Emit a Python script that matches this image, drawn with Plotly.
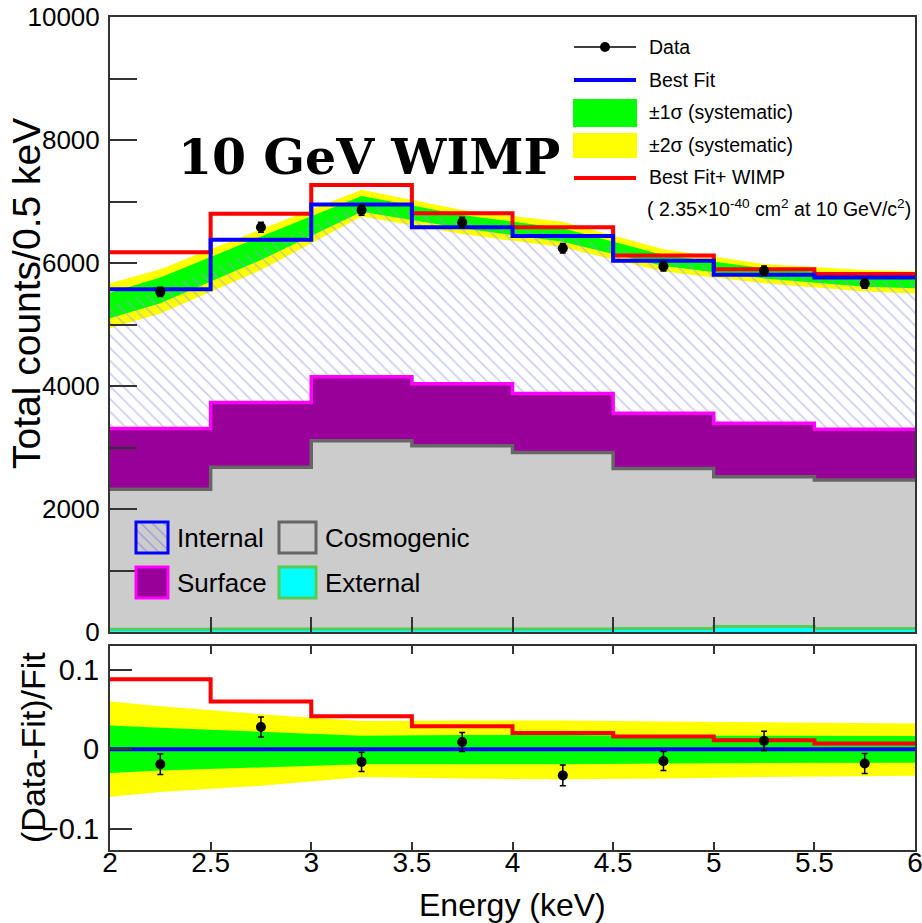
import plotly.graph_objects as go

# ---------------- binning ----------------
energy_edges = [2.0, 2.5, 3.0, 3.5, 4.0, 4.5, 5.0, 5.5, 6.0]
bin_centers = [2.25, 2.75, 3.25, 3.75, 4.25, 4.75, 5.25, 5.75]
energy_tick_labels = ["2", "2.5", "3", "3.5", "4", "4.5", "5", "5.5", "6"]

# ---------------- spectrum (counts / 0.5 keV) ----------------
data_counts = [5530, 6580, 6860, 6660, 6240, 5945, 5875, 5665]
data_errors = [74, 81, 83, 82, 79, 77, 77, 75]
best_fit = [5575, 6380, 6950, 6580, 6440, 6035, 5810, 5765]
best_fit_wimp = [6175, 6800, 7270, 6810, 6580, 6120, 5900, 5820]

# stacked background components (cumulative tops of each layer)
surface_top = [3310, 3730, 4150, 4035, 3880, 3555, 3395, 3295]
cosmogenic_top = [2320, 2680, 3110, 3030, 2920, 2660, 2525, 2470]
external_top = [45, 48, 50, 50, 50, 55, 90, 55]

# smooth fit envelope evaluated at the band nodes
band_nodes = [2.0, 2.25, 2.75, 3.25, 3.75, 4.25, 4.75, 5.25, 5.75, 6.0]
internal_top = [5310, 5555, 6240, 6960, 6670, 6455, 6040, 5830, 5710, 5680]
sys2_hi = [5670, 5900, 6550, 7190, 6860, 6670, 6225, 5985, 5885, 5860]
sys1_hi = [5515, 5765, 6430, 7090, 6780, 6565, 6130, 5915, 5805, 5775]
sys1_lo = [5100, 5345, 6050, 6835, 6565, 6345, 5950, 5750, 5615, 5590]
sys2_lo = [4940, 5180, 5885, 6755, 6470, 6255, 5860, 5670, 5535, 5505]

count_ticks = [0, 2000, 4000, 6000, 8000, 10000]
count_tick_labels = ["0", "2000", "4000", "6000", "8000", "10000"]

# ---------------- residual panel ----------------
resid_values = [-0.019, 0.028, -0.016, 0.009, -0.033, -0.015, 0.0105, -0.018]
resid_errors = [0.013, 0.0125, 0.012, 0.012, 0.013, 0.012, 0.012, 0.0125]
resid_wimp = [0.088, 0.060, 0.0415, 0.029, 0.0205, 0.0160, 0.0113, 0.0072]
resid_fit = [0.0, 0.0, 0.0, 0.0, 0.0, 0.0, 0.0, 0.0]
rsys2_hi = [0.060, 0.054, 0.044, 0.0355, 0.036, 0.036, 0.035, 0.034, 0.033, 0.0325]
rsys1_hi = [0.030, 0.027, 0.022, 0.017, 0.018, 0.018, 0.017, 0.017, 0.0165, 0.0165]
rsys1_lo = [-0.030, -0.027, -0.023, -0.019, -0.019, -0.019, -0.018, -0.0175, -0.017, -0.017]
rsys2_lo = [-0.060, -0.054, -0.046, -0.035, -0.037, -0.038, -0.037, -0.035, -0.034, -0.0335]

resid_ticks = [-0.1, 0.0, 0.1]
resid_tick_labels = ["\u22120.1", "0", "0.1"]

# ---------------- page geometry ----------------
W, H = 922, 923
ML, MR, MT, MB = 110, 7, 17, 73
PW, PH = W - ML - MR, H - MT - MB
TOP_PANEL_BOTTOM_PX = 632
BOTTOM_PANEL_TOP_PX = 646

FONT = "Liberation Sans"
YELLOW, GREEN = "#FFFF00", "#00FF00"
BLUE, RED = "#0000FF", "#FF0000"
PURPLE, MAGENTA = "#990099", "#FF00FF"
GREY_FILL, GREY_LINE = "#CCCCCC", "#666666"
CYAN, EXT_LINE = "#00FFFF", "#55CC55"
HATCH = "#9A9AEA"
FRAME = "#333333"


def px_x(px):
    return (px - ML) / PW


def px_y(py):
    return (H - MB - py) / PH


def step(vals):
    return list(vals) + [vals[-1]]


def band(xs, hi, lo):
    return list(xs) + list(xs[::-1]), list(hi) + list(lo[::-1])


fig = go.Figure()

# ---------------- top panel ----------------
bx, by = band(band_nodes, sys2_hi, sys2_lo)
fig.add_trace(go.Scatter(x=bx, y=by, fill="toself", fillcolor=YELLOW, mode="lines",
                         line=dict(width=0), hoverinfo="skip", xaxis="x", yaxis="y"))
bx, by = band(band_nodes, sys1_hi, sys1_lo)
fig.add_trace(go.Scatter(x=bx, y=by, fill="toself", fillcolor=GREEN, mode="lines",
                         line=dict(width=0), hoverinfo="skip", xaxis="x", yaxis="y"))

# internal component: hatched, drawn over the bands
fig.add_trace(go.Scatter(x=band_nodes, y=internal_top, fill="tozeroy", mode="lines",
                         line=dict(width=0), fillcolor="rgba(0,0,0,0)",
                         fillpattern=dict(shape="\\", fgcolor=HATCH, bgcolor="rgba(0,0,0,0)",
                                          size=9, solidity=0.18, fillmode="overlay"),
                         hoverinfo="skip", xaxis="x", yaxis="y"))

fig.add_trace(go.Scatter(x=energy_edges, y=step(surface_top), line_shape="hv",
                         fill="tozeroy", fillcolor=PURPLE, mode="lines",
                         line=dict(color=MAGENTA, width=3.5), xaxis="x", yaxis="y"))
fig.add_trace(go.Scatter(x=energy_edges, y=step(cosmogenic_top), line_shape="hv",
                         fill="tozeroy", fillcolor=GREY_FILL, mode="lines",
                         line=dict(color=GREY_LINE, width=3.5), xaxis="x", yaxis="y"))
fig.add_trace(go.Scatter(x=energy_edges, y=step(external_top), line_shape="hv",
                         fill="tozeroy", fillcolor=CYAN, mode="lines",
                         line=dict(color=EXT_LINE, width=3), xaxis="x", yaxis="y"))

fig.add_trace(go.Scatter(x=energy_edges, y=step(best_fit_wimp), line_shape="hv", mode="lines",
                         line=dict(color=RED, width=4), xaxis="x", yaxis="y"))
fig.add_trace(go.Scatter(x=energy_edges, y=step(best_fit), line_shape="hv", mode="lines",
                         line=dict(color=BLUE, width=4), xaxis="x", yaxis="y"))
fig.add_trace(go.Scatter(x=bin_centers, y=data_counts, mode="markers",
                         marker=dict(color="black", size=10),
                         error_y=dict(type="data", array=data_errors, color="black",
                                      thickness=1.5, width=3),
                         xaxis="x", yaxis="y"))

# ---------------- residual panel ----------------
bx, by = band(band_nodes, rsys2_hi, rsys2_lo)
fig.add_trace(go.Scatter(x=bx, y=by, fill="toself", fillcolor=YELLOW, mode="lines",
                         line=dict(width=0), hoverinfo="skip", xaxis="x2", yaxis="y2"))
bx, by = band(band_nodes, rsys1_hi, rsys1_lo)
fig.add_trace(go.Scatter(x=bx, y=by, fill="toself", fillcolor=GREEN, mode="lines",
                         line=dict(width=0), hoverinfo="skip", xaxis="x2", yaxis="y2"))
fig.add_trace(go.Scatter(x=energy_edges, y=step(resid_wimp), line_shape="hv", mode="lines",
                         line=dict(color=RED, width=4), xaxis="x2", yaxis="y2"))
fig.add_trace(go.Scatter(x=energy_edges, y=step(resid_fit), line_shape="hv", mode="lines",
                         line=dict(color=BLUE, width=4), xaxis="x2", yaxis="y2"))
fig.add_trace(go.Scatter(x=bin_centers, y=resid_values, mode="markers",
                         marker=dict(color="black", size=10),
                         error_y=dict(type="data", array=resid_errors, color="black",
                                      thickness=1.5, width=3),
                         xaxis="x2", yaxis="y2"))

# hatched swatch of the component key, on a pixel-scaled overlay of the top panel
sw_x0, sw_x1, sw_y0, sw_y1 = 136, 168, 522, 553
fig.add_trace(go.Scatter(x=[sw_x0, sw_x1, sw_x1, sw_x0, sw_x0], y=[sw_y0, sw_y0, sw_y1, sw_y1, sw_y0],
                         fill="toself", mode="lines", line=dict(width=0), fillcolor="rgba(0,0,0,0)",
                         fillpattern=dict(shape="\\", fgcolor="#7A7AE0", bgcolor="rgba(0,0,0,0)",
                                          size=8, solidity=0.2, fillmode="overlay"),
                         hoverinfo="skip", xaxis="x3", yaxis="y3"))

# ---------------- axes ----------------
top_dom = [px_y(TOP_PANEL_BOTTOM_PX), 1.0]
bot_dom = [0.0, px_y(BOTTOM_PANEL_TOP_PX)]
axis_common = dict(showgrid=False, zeroline=False, showline=True, linecolor=FRAME,
                   linewidth=2, ticks="inside", tickcolor=FRAME, tickwidth=1.5,
                   automargin=False)

fig.update_layout(
    xaxis=dict(domain=[0, 1], range=[2, 6], anchor="y", tickvals=energy_edges,
               showticklabels=False, ticklen=15, mirror=True, **axis_common),
    yaxis=dict(domain=top_dom, range=[0, 10000], anchor="x", tickvals=count_ticks,
               ticktext=count_tick_labels, ticklen=27, mirror=True, ticklabelstandoff=3,
               minor=dict(dtick=1000, tick0=0, ticks="inside", ticklen=27,
                          tickcolor=FRAME, tickwidth=1.5, showgrid=False),
               tickfont=dict(family=FONT, size=26, color="black"), **axis_common),
    xaxis2=dict(domain=[0, 1], range=[2, 6], anchor="y2", tickvals=energy_edges,
                ticktext=energy_tick_labels, ticklen=8, mirror="ticks", ticklabelstandoff=-14,
                ticklabeloverflow="allow",
                tickfont=dict(family=FONT, size=28, color="black"), **axis_common),
    yaxis2=dict(domain=bot_dom, range=[-0.127, 0.13], anchor="x2", tickvals=resid_ticks,
                ticktext=resid_tick_labels, ticklen=22, mirror=True, ticklabelstandoff=3,
                tickfont=dict(family=FONT, size=29, color="black"), **axis_common),
    xaxis3=dict(overlaying="x", range=[ML, W - MR], visible=False, anchor="y3"),
    yaxis3=dict(overlaying="y", range=[TOP_PANEL_BOTTOM_PX, MT], visible=False, anchor="x3"),
    width=W, height=H,
    margin=dict(l=ML, r=MR, t=MT, b=MB, pad=0, autoexpand=False),
    paper_bgcolor="white", plot_bgcolor="white",
    showlegend=False,
)

annotations = []
shapes = []


def text(px, py, s, size, anchor="left", angle=0, family=FONT, bold=False):
    if bold:
        s = "<b>" + s + "</b>"
    annotations.append(dict(x=px_x(px), y=px_y(py), xref="paper", yref="paper", text=s,
                            showarrow=False, xanchor=anchor, yanchor="middle", textangle=angle,
                            font=dict(family=family, size=size, color="black")))


def hline(x0, x1, y, color, width):
    shapes.append(dict(type="line", xref="paper", yref="paper", x0=px_x(x0), x1=px_x(x1),
                       y0=px_y(y), y1=px_y(y), line=dict(color=color, width=width), layer="above"))


def rect(x0, y0, x1, y1, fill, line_color=None, line_width=0):
    shapes.append(dict(type="rect", xref="paper", yref="paper", x0=px_x(x0), x1=px_x(x1),
                       y0=px_y(y1), y1=px_y(y0), fillcolor=fill,
                       line=dict(color=line_color or fill, width=line_width), layer="above"))


# axis titles and panel label
text(27, 294, "Total counts/0.5 keV", 39, anchor="center", angle=-90)
text(33, 748, "(Data-Fit)/Fit", 34, anchor="center", angle=-90)
text(512, 905, "Energy (keV)", 32, anchor="center")
text(369, 157, "10 GeV WIMP", 49, anchor="center", family="DejaVu Serif", bold=True)

# fit legend (top right)
hline(574, 636, 47, "black", 1.5)
shapes.append(dict(type="circle", xref="paper", yref="paper", x0=px_x(600), x1=px_x(610),
                   y0=px_y(52), y1=px_y(42), fillcolor="black", line=dict(color="black", width=0),
                   layer="above"))
hline(574, 636, 80, BLUE, 4)
rect(573, 99, 637, 127, GREEN)
rect(573, 133, 637, 158, YELLOW)
hline(574, 636, 178, RED, 4)
LEG = 19.5
text(647, 47, "Data", LEG)
text(647, 80, "Best Fit", LEG)
text(647, 112, "\u00b11\u03c3 (systematic)", LEG)
text(647, 145, "\u00b12\u03c3 (systematic)", LEG)
text(647, 177, "Best Fit+ WIMP", LEG)
text(645, 208, "( 2.35\u00d710<sup>-40</sup> cm<sup>2</sup> at 10 GeV/c<sup>2</sup>)", LEG)

# component legend (bottom left)
rect(sw_x0, sw_y0, sw_x1, sw_y1, "rgba(0,0,0,0)", BLUE, 3)
rect(279, 522, 316, 553, GREY_FILL, GREY_LINE, 3)
rect(136, 567, 168, 598, PURPLE, MAGENTA, 3)
rect(279, 567, 316, 598, CYAN, EXT_LINE, 3)
text(175, 538, "Internal", 26)
text(323, 538, "Cosmogenic", 26)
text(175, 583, "Surface", 26)
text(323, 583, "External", 26)

fig.update_layout(annotations=annotations, shapes=shapes)
fig.write_html("out.html")
